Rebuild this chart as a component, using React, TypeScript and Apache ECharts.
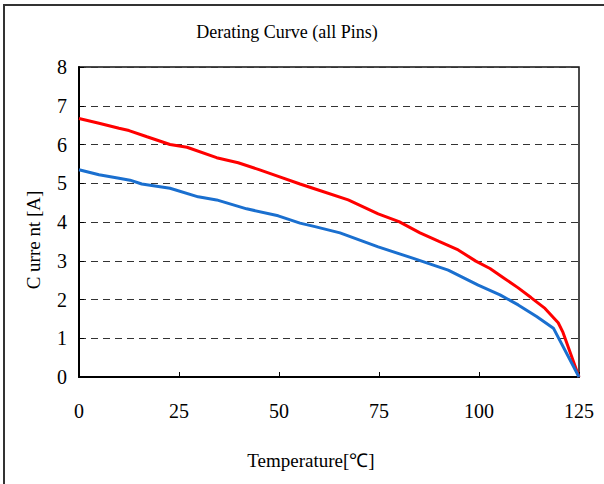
import React, { useEffect, useRef } from "react";
import * as echarts from "echarts";

const title = "Derating Curve (all Pins)";
const xName = "Temperature[℃]";
const yName = "C urre nt [A]";

const redTemps = [0, 5, 10, 12.5, 17, 22.75, 27, 34.4, 39.8, 45, 50, 55.25, 60, 67.3, 74.8, 80, 85.25, 90, 94.8, 99.2, 102.75, 106, 109.8, 113, 116.5, 119.8, 121, 125];
const redValues = [6.67, 6.55, 6.42, 6.36, 6.2, 6.0, 5.93, 5.66, 5.53, 5.35, 5.17, 4.98, 4.82, 4.57, 4.21, 4.01, 3.72, 3.5, 3.28, 2.99, 2.8, 2.57, 2.3, 2.05, 1.77, 1.4, 1.15, 0];

const blueTemps = [0, 5, 10, 12.75, 15.7, 22.75, 29.8, 34.4, 41.9, 49.8, 55.25, 59, 65.25, 74.8, 83.6, 92.3, 99.8, 105.25, 109.8, 114.4, 118.6, 125];
const blueValues = [5.35, 5.22, 5.13, 5.08, 4.98, 4.87, 4.65, 4.57, 4.34, 4.16, 3.97, 3.88, 3.72, 3.36, 3.06, 2.76, 2.37, 2.12, 1.86, 1.56, 1.26, 0];

const FONT = "serif";

export default function App() {
  const ref = useRef<HTMLDivElement>(null);
  useEffect(() => {
    if (!ref.current) return;
    const chart = echarts.init(ref.current, null, { renderer: "svg" });
    chart.setOption({
      animation: false,
      backgroundColor: "#fff",
      textStyle: { fontFamily: FONT },
      grid: {
        left: 79,
        right: 25,
        top: 67,
        bottom: 107,
        show: true,
        borderColor: "#111",
        borderWidth: 1.5,
      },
      xAxis: {
        type: "value",
        min: 0,
        max: 125,
        interval: 25,
        axisLine: { show: true, lineStyle: { color: "#000", width: 2 } },
        axisTick: { show: true, inside: true, length: 5, lineStyle: { color: "#000" } },
        axisLabel: { color: "#000", fontSize: 20, fontFamily: FONT, margin: 24 },
        splitLine: { show: false },
      },
      yAxis: {
        type: "value",
        min: 0,
        max: 8,
        interval: 1,
        axisLine: { show: true, lineStyle: { color: "#000", width: 2 } },
        axisTick: { show: true, inside: true, length: 5, lineStyle: { color: "#000" } },
        axisLabel: { color: "#000", fontSize: 20, fontFamily: FONT, margin: 12 },
        splitLine: { show: true, lineStyle: { color: "#333", type: [7, 5], width: 1 } },
      },
      graphic: [
        {
          type: "rect",
          shape: { x: 4, y: 5, width: 700, height: 600 },
          style: { fill: "none", stroke: "#333", lineWidth: 2 },
          silent: true,
        },
        {
          type: "text",
          x: 287,
          y: 32,
          style: { text: title, fill: "#000", fontSize: 18, fontFamily: FONT, align: "center", verticalAlign: "middle" },
        },
        {
          type: "text",
          x: 311,
          y: 460,
          style: { text: xName, fill: "#000", fontSize: 19, fontFamily: FONT, align: "center", verticalAlign: "middle" },
        },
        {
          type: "text",
          x: 33,
          y: 240,
          rotation: Math.PI / 2,
          style: { text: yName, fill: "#000", fontSize: 19, fontFamily: FONT, align: "center", verticalAlign: "middle" },
        },
      ],
      series: [
        {
          type: "line",
          data: redTemps.map((t, i) => [t, redValues[i]]),
          showSymbol: false,
          lineStyle: { color: "#ff0000", width: 3 },
          itemStyle: { color: "#ff0000" },
        },
        {
          type: "line",
          data: blueTemps.map((t, i) => [t, blueValues[i]]),
          showSymbol: false,
          lineStyle: { color: "#1a6fcf", width: 3 },
          itemStyle: { color: "#1a6fcf" },
        },
      ],
    });
    return () => chart.dispose();
  }, []);
  return <div ref={ref} style={{ position: "fixed", left: 0, top: 0, width: 604, height: 484 }} />;
}
